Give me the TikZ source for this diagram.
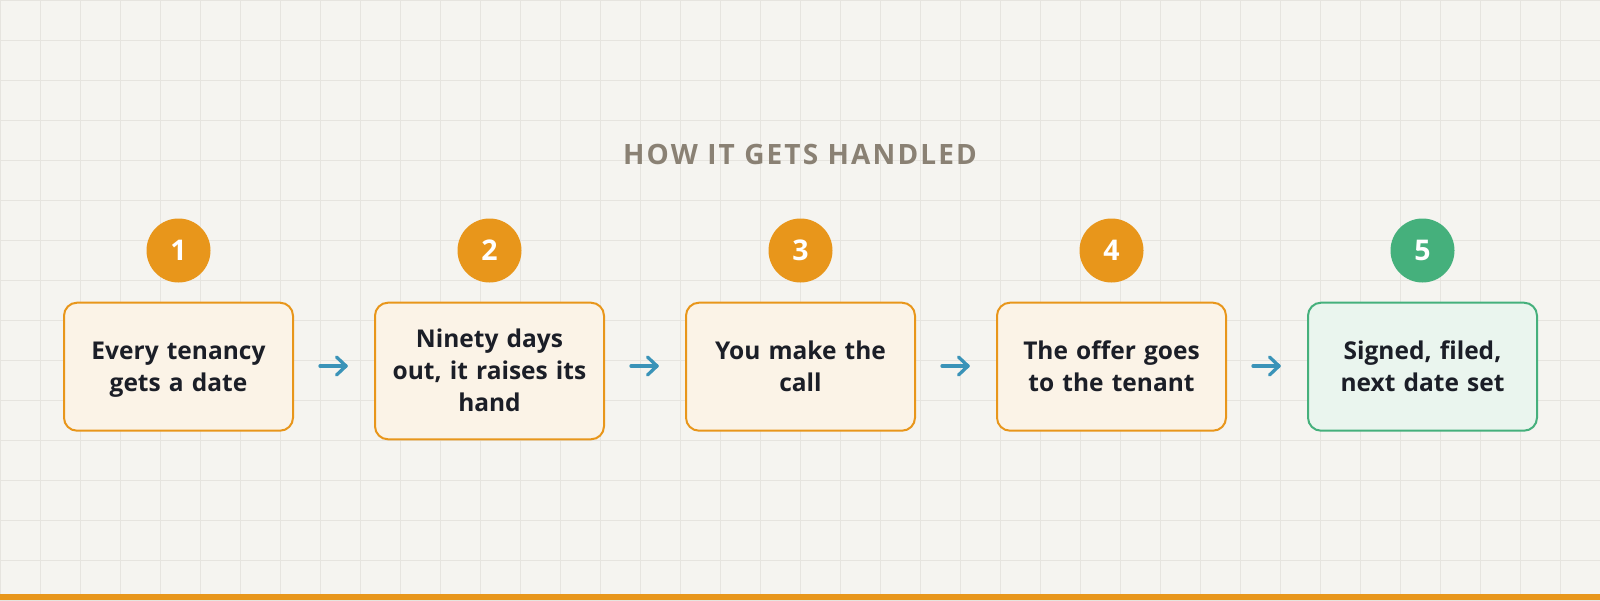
\documentclass[tikz,border=0pt]{standalone}
\usepackage{fontspec}
\setmainfont{Open Sans}
\usetikzlibrary{calc}
\definecolor{bgc}{HTML}{F5F4F0}
\definecolor{gridc}{HTML}{E6E4DF}
\definecolor{orng}{HTML}{E8961B}
\definecolor{orfill}{HTML}{FBF3E7}
\definecolor{grn}{HTML}{45B07C}
\definecolor{grfill}{HTML}{EAF5EE}
\definecolor{txtc}{HTML}{1B1E27}
\definecolor{arrc}{HTML}{3A93B8}
\definecolor{titc}{HTML}{8A8174}
\newcommand\lnstrut{\rule[-7.1pt]{0pt}{32pt}}
\tikzset{
  gridline/.style={draw=gridc, line width=1pt},
  stepbox/.style={draw=orng, fill=orfill, line width=2pt, rounded corners=13pt,
    text width=205pt, inner xsep=12pt, inner ysep=20.3pt, minimum width=229pt,
    minimum height=128pt, align=center, anchor=north, text=txtc,
    font=\fontsize{24.5}{32}\selectfont\bfseries},
  endbox/.style={stepbox, draw=grn, fill=grfill},
  numdot/.style={circle, fill=orng, minimum size=64pt, inner sep=0pt, text=white,
    font=\fontsize{28.5}{32}\selectfont\bfseries},
  enddot/.style={numdot, fill=grn},
  flow/.style={draw=arrc, line width=3.3pt, line cap=round, line join=round},
}
\begin{document}
\begin{tikzpicture}[x=1pt,y=-1pt]
\useasboundingbox (0,0) rectangle (1600,600);
\fill[bgc] (0,0) rectangle (1600,600);
\foreach \x in {0,40,...,1600} \draw[gridline] (\x,0) -- (\x,600);
\foreach \y in {0,40,...,600} \draw[gridline] (0,\y) -- (1600,\y);
\fill[orng] (0,594) rectangle (1600,600);

\node[text=titc, anchor=base, font=\fontsize{28}{32}\selectfont\bfseries\addfontfeature{LetterSpace=7.6}] (title) at (800,164.3) {HOW IT GETS HANDLED};

\node[stepbox] (b1) at (178.5,301.7) {\lnstrut Every tenancy\\\lnstrut gets a date};
\node[stepbox] (b2) at (489.5,301.7) {\lnstrut Ninety days\\\lnstrut out, it raises its\\\lnstrut hand};
\node[stepbox] (b3) at (800.5,301.7) {\lnstrut You make the\\\lnstrut call};
\node[stepbox] (b4) at (1111.5,301.7) {\lnstrut The offer goes\\\lnstrut to the tenant};
\node[endbox] (b5) at (1422.5,301.7) {\lnstrut Signed, filed,\\\lnstrut next date set};

\node[numdot] (n1) at (178.5,250.5) {1};
\node[numdot] (n2) at (489.5,250.5) {2};
\node[numdot] (n3) at (800.5,250.5) {3};
\node[numdot] (n4) at (1111.5,250.5) {4};
\node[enddot] (n5) at (1422.5,250.5) {5};

\foreach \i in {1,2,3,4} {
  \pgfmathsetmacro{\cx}{333.5+311*(\i-1)}
  \coordinate (s\i) at (\cx-13.5,366);
  \coordinate (e\i) at (\cx+12.5,366);
  \draw[flow] (s\i) -- (e\i);
  \draw[flow] ($(e\i)+(-9.5,-9)$) -- (e\i) -- ($(e\i)+(-9.5,9)$);
}
\end{tikzpicture}
\end{document}
